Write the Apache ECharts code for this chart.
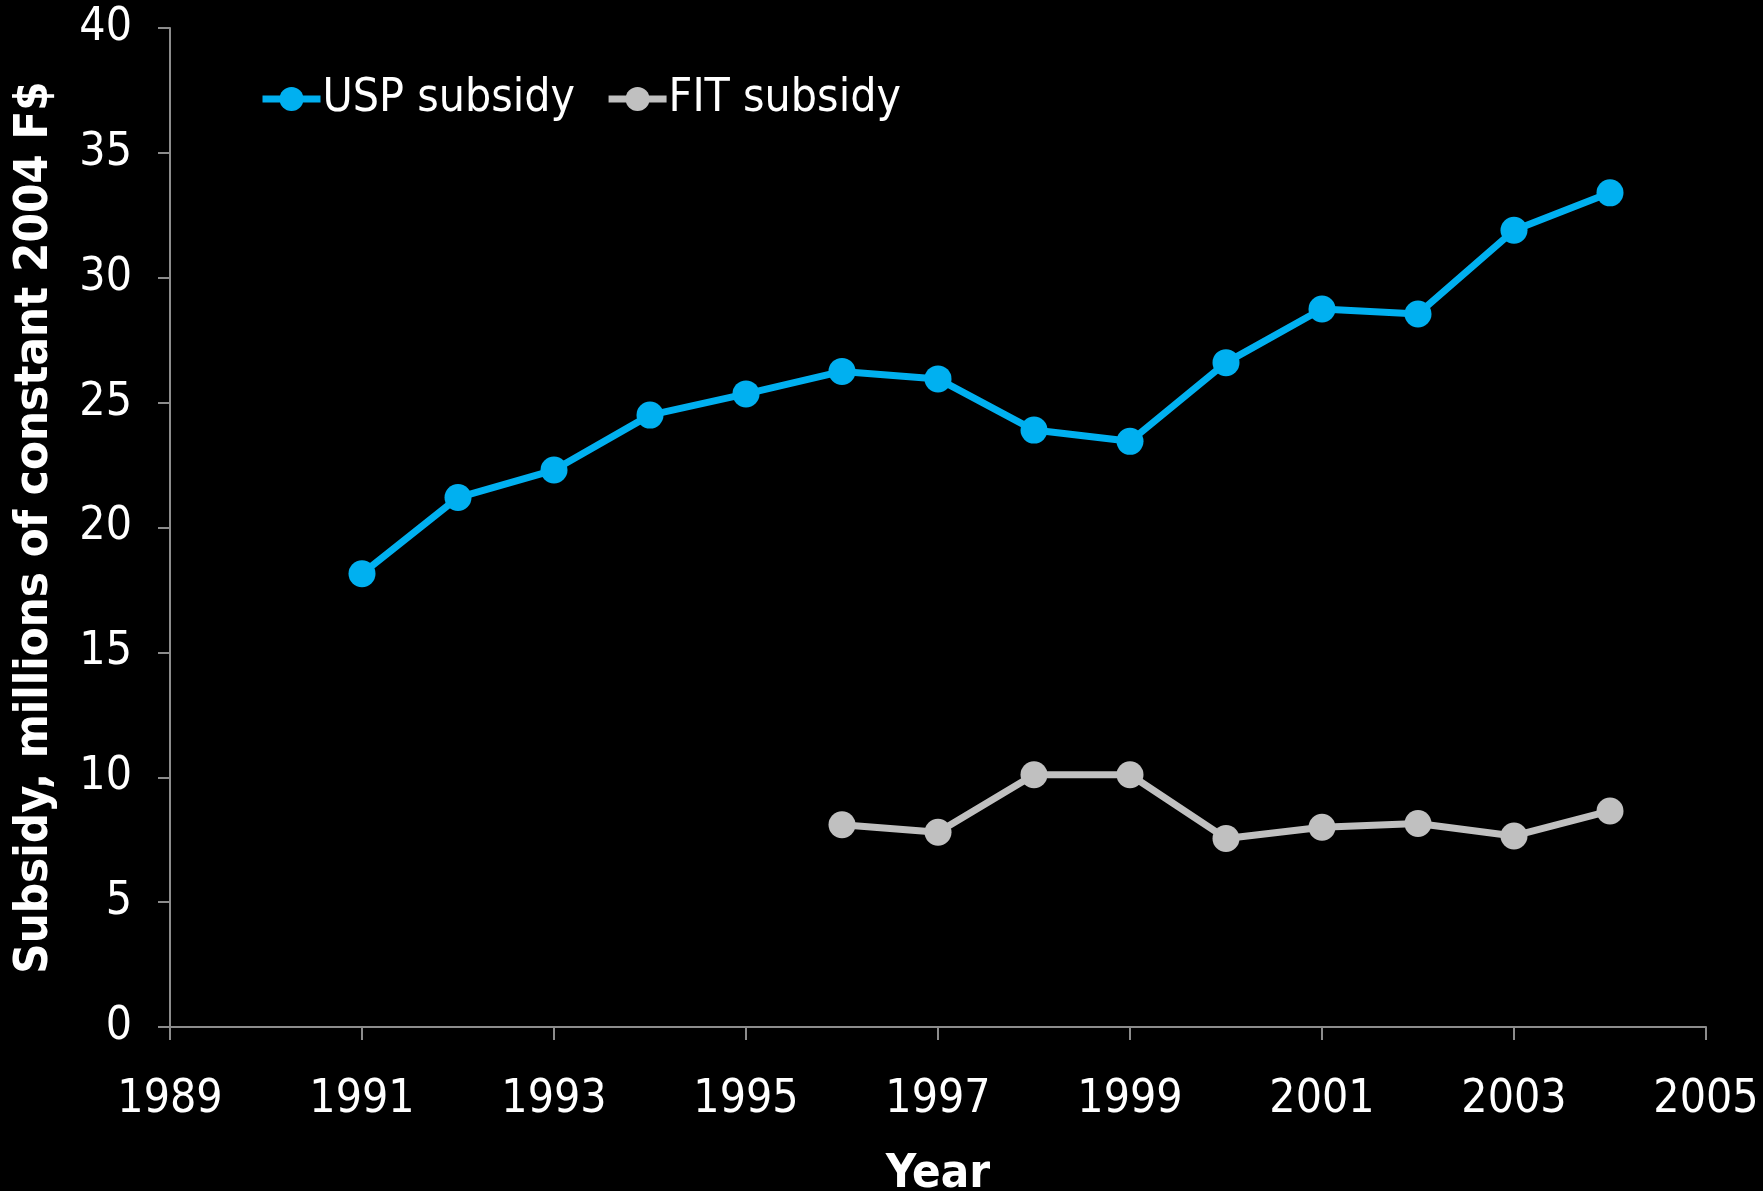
<!DOCTYPE html>
<html>
<head>
<meta charset="utf-8">
<script src="https://cdn.jsdelivr.net/npm/echarts@6/dist/echarts.min.js"></script>
<style>
  html, body { margin: 0; padding: 0; background: #000; }
  #chart { width: 1763px; height: 1191px; }
</style>
</head>
<body>
<div id="chart"></div>
<script>
const uspYears = [1991, 1992, 1993, 1994, 1995, 1996, 1997, 1998, 1999, 2000, 2001, 2002, 2003, 2004]
const uspValues = [18.15, 21.2, 22.3, 24.5, 25.35, 26.25, 25.95, 23.9, 23.45, 26.6, 28.75, 28.55, 31.9, 33.4]
const fitYears = [1996, 1997, 1998, 1999, 2000, 2001, 2002, 2003, 2004]
const fitValues = [8.1, 7.8, 10.1, 10.1, 7.55, 8.0, 8.15, 7.65, 8.65]

const font = '"DejaVu Sans Condensed", "DejaVu Sans", Verdana, sans-serif'
const axisColor = '#8c8c8c'

const chart = echarts.init(document.getElementById('chart'))

chart.setOption({
  backgroundColor: '#000',
  animation: false,
  textStyle: { fontFamily: font, color: '#fff' },
  legend: {
    left: 254,
    top: 71,
    itemWidth: 58,
    itemHeight: 30,
    itemGap: 30,
    lineStyle: { width: 7 },
    textStyle: { color: '#fff', fontSize: 46, fontFamily: font, padding: [0, 0, 0, -3] },
    data: ['USP subsidy', 'FIT subsidy']
  },
  grid: { left: 170, right: 57, top: 28, bottom: 164, outerBoundsMode: 'none' },
  xAxis: {
    type: 'value',
    min: 1989,
    max: 2005,
    interval: 2,
    name: 'Year',
    nameLocation: 'middle',
    nameGap: 124,
    nameTextStyle: { color: '#fff', fontSize: 47, fontWeight: 'bold', fontFamily: font },
    axisLine: { show: true, lineStyle: { color: axisColor, width: 2 } },
    axisTick: { show: true, length: 13, lineStyle: { color: axisColor, width: 2 } },
    axisLabel: { color: '#fff', fontSize: 46, margin: 50, formatter: v => String(v) },
    splitLine: { show: false }
  },
  yAxis: {
    type: 'value',
    min: 0,
    max: 40,
    interval: 5,
    name: 'Subsidy, millions of constant 2004 F$',
    nameLocation: 'middle',
    nameGap: 112,
    nameTextStyle: { color: '#fff', fontSize: 47, fontWeight: 'bold', fontFamily: font },
    axisLine: { show: true, lineStyle: { color: axisColor, width: 2 } },
    axisTick: { show: true, length: 12, lineStyle: { color: axisColor, width: 2 } },
    axisLabel: { color: '#fff', fontSize: 46, margin: 38 },
    splitLine: { show: false }
  },
  series: [
    {
      name: 'USP subsidy',
      type: 'line',
      data: uspYears.map((y, i) => [y, uspValues[i]]),
      symbol: 'circle',
      symbolSize: 27,
      lineStyle: { color: '#00b0f0', width: 7 },
      itemStyle: { color: '#00b0f0' }
    },
    {
      name: 'FIT subsidy',
      type: 'line',
      data: fitYears.map((y, i) => [y, fitValues[i]]),
      symbol: 'circle',
      symbolSize: 27,
      lineStyle: { color: '#c0c0c0', width: 7 },
      itemStyle: { color: '#c0c0c0' }
    }
  ]
})
</script>
</body>
</html>
